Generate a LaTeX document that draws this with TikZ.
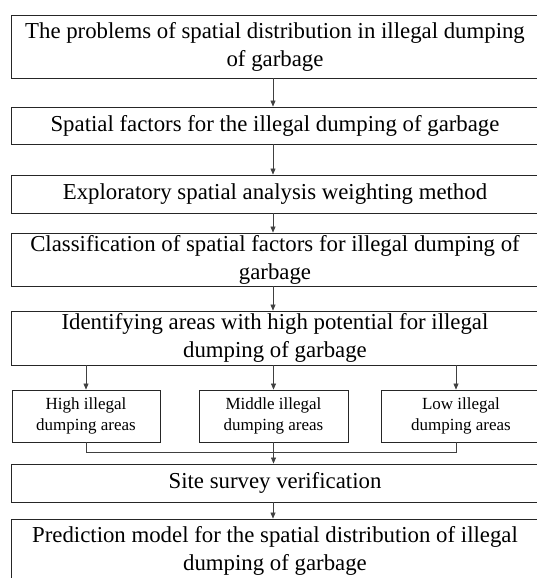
\documentclass[tikz,border=0pt]{standalone}
\usepackage{fontspec}
\setmainfont{Liberation Serif}
\usetikzlibrary{arrows.meta}
\tikzset{
	bigbox/.style={draw=black!85,line width=0.9pt,inner sep=0pt,minimum width=528pt,align=center,font=\fontsize{22.8}{28}\selectfont},
	smallbox/.style={draw=black!85,line width=0.9pt,inner sep=0pt,minimum height=52pt,align=center,font=\fontsize{17}{21}\selectfont},
	link/.style={draw=black!75,line width=0.6pt}
}
\begin{document}
\begin{tikzpicture}[x=1pt,y=-1pt,>={Triangle[length=6pt,width=5pt]}]
		\useasboundingbox (0,0) rectangle (537,578);
		\clip (0,0) rectangle (537,578);
		\coordinate (axis) at (273,0);
		\coordinate (loaxis) at (456,0);
		\node[bigbox,minimum height=63pt] (b1) at (275,46.5) {The problems of spatial distribution in illegal dumping\\of garbage};
		\node[bigbox,minimum height=37pt] (b2) at (275,125.5) {Spatial factors for the illegal dumping of garbage};
		\node[bigbox,minimum height=38pt] (b3) at (275,194) {Exploratory spatial analysis weighting method};
		\node[bigbox,minimum height=53pt] (b4) at (275,259.5) {Classification of spatial factors for illegal dumping of\\garbage};
		\node[bigbox,minimum height=54pt] (b5) at (275,338) {Identifying areas with high potential for illegal\\dumping of garbage};
		\node[smallbox,minimum width=148pt] (hi) at (86,416) {High illegal\\dumping areas};
		\node[smallbox,minimum width=149pt] (mid) at (273.5,416) {Middle illegal\\dumping areas};
		\node[smallbox,minimum width=160pt] (lo) at (461,416) {Low illegal\\dumping areas};
		\node[bigbox,minimum height=38pt] (b6) at (275,483) {Site survey verification};
		\node[bigbox,minimum height=63pt] (b7) at (275,550.5) {Prediction model for the spatial distribution of illegal\\dumping of garbage};
		% vertical flow
		\draw[link,->] (b1.south -| axis) -- (b2.north -| axis);
		\draw[link,->] (b2.south -| axis) -- (b3.north -| axis);
		\draw[link,->] (b3.south -| axis) -- (b4.north -| axis);
		\draw[link,->] (b4.south -| axis) -- (b5.north -| axis);
		% split into three classes
		\draw[link,->] (b5.south -| hi) -- (hi.north);
		\draw[link,->] (b5.south -| mid) -- (mid.north);
		\draw[link,->] (b5.south -| loaxis) -- (lo.north -| loaxis);
		% merge back
		\draw[link] (hi.south) -- ++(0,10) -| (lo.south -| loaxis);
		\draw[link,->] (mid.south) -- (mid.south |- b6.north);
		\draw[link,->] (b6.south -| axis) -- (b7.north -| axis);
	\end{tikzpicture}
\end{document}
